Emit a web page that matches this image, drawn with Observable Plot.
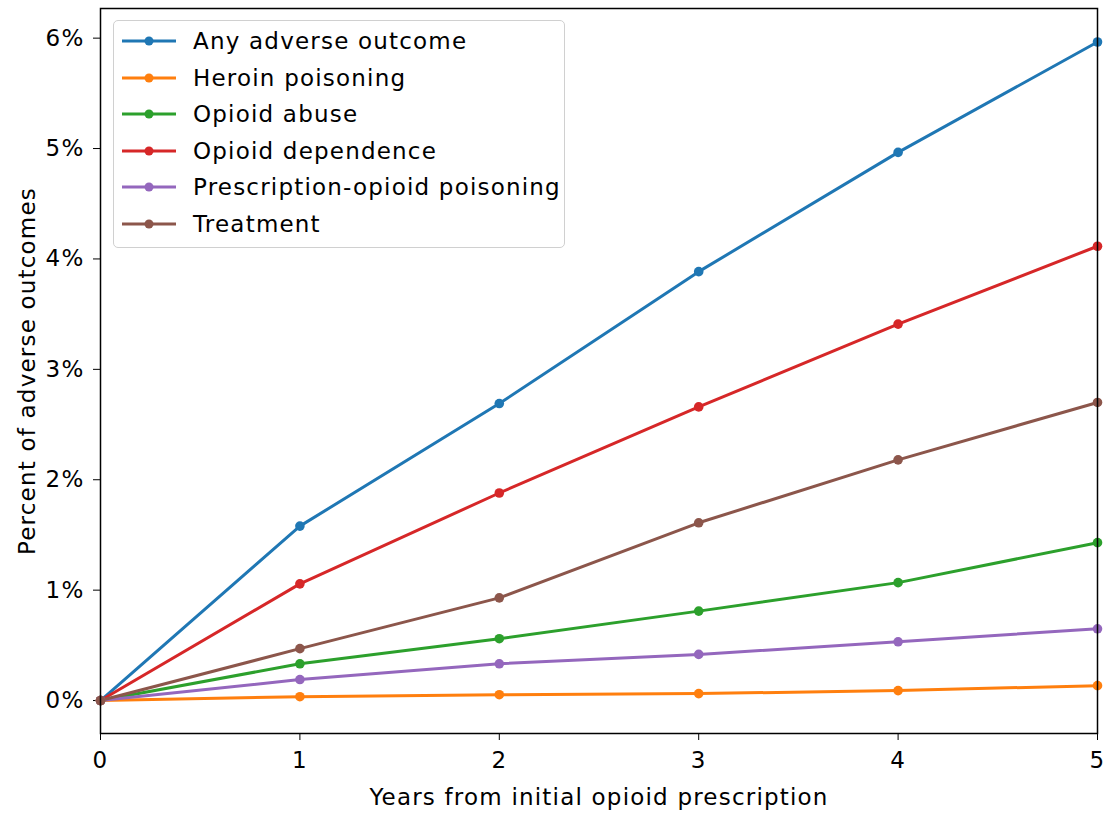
<!DOCTYPE html>
<html>
<head>
<meta charset="utf-8">
<script src="https://cdn.jsdelivr.net/npm/d3@7"></script>
<script src="https://cdn.jsdelivr.net/npm/@observablehq/plot@0.6"></script>
<style>
  html, body { margin: 0; padding: 0; background: #fff; }
  #wrap { position: relative; width: 1105px; height: 815px; font-family: "DejaVu Sans", sans-serif; color: #000; }
  #legend { position: absolute; left: 113px; top: 20px; width: 452px; height: 228px; border: 1.5px solid #d0d0d0; border-radius: 5px; background: rgba(255,255,255,0.8); box-sizing: border-box; }
  .row { position: absolute; left: 0; height: 36px; display: flex; align-items: center; font-size: 23px; letter-spacing: 1.2px; white-space: nowrap; }
  .row svg { margin-left: 8px; margin-right: 17px; }
</style>
</head>
<body>
<div id="wrap"><div id="chart"></div><div id="legend"></div></div>
<script>
const years = [0, 1, 2, 3, 4, 5];
const seriesNames = ["Any adverse outcome", "Heroin poisoning", "Opioid abuse", "Opioid dependence", "Prescription-opioid poisoning", "Treatment"];
const seriesColors = ["#1f77b4", "#ff7f0e", "#2ca02c", "#d62728", "#9467bd", "#8c564b"];
const anyAdverse = [0, 1.58, 2.69, 3.885, 4.965, 5.965];
const heroinPoisoning = [0, 0.035, 0.053, 0.063, 0.09, 0.135];
const opioidAbuse = [0, 0.333, 0.56, 0.81, 1.068, 1.43];
const opioidDependence = [0, 1.057, 1.88, 2.66, 3.41, 4.115];
const rxPoisoning = [0, 0.19, 0.333, 0.418, 0.532, 0.65];
const treatment = [0, 0.47, 0.93, 1.61, 2.18, 2.7];
const yTicks = [0, 1, 2, 3, 4, 5, 6];
const xTicks = [0, 1, 2, 3, 4, 5];

const allValues = [anyAdverse, heroinPoisoning, opioidAbuse, opioidDependence, rxPoisoning, treatment];
const data = [];
seriesNames.forEach((name, i) => {
  years.forEach((yr, j) => data.push({series: name, year: yr, value: allValues[i][j]}));
});

const chart = Plot.plot({
  width: 1105,
  height: 815,
  marginLeft: 100,
  marginRight: 8,
  marginTop: 8,
  marginBottom: 82,
  style: {fontFamily: "DejaVu Sans, sans-serif", fontSize: "23px", letterSpacing: "1.2px", color: "#000", background: "#fff"},
  x: {domain: [0, 5]},
  y: {domain: [-0.2985, 6.2685]},
  color: {domain: seriesNames, range: seriesColors},
  marks: [
    Plot.axisX({ticks: xTicks, tickSize: 7, tickPadding: 11, tickFormat: d => String(d), label: "Years from initial opioid prescription", labelAnchor: "center", labelOffset: 71, labelArrow: "none", fontSize: 23}),
    Plot.axisY({ticks: yTicks, tickSize: 7, tickPadding: 9, tickFormat: d => d + "%", label: "Percent of adverse outcomes", labelAnchor: "center", labelOffset: 82, labelArrow: "none", fontSize: 23}),
    Plot.line(data, {x: "year", y: "value", stroke: "series", z: "series", strokeWidth: 3}),
    Plot.dot(data, {x: "year", y: "value", fill: "series", r: 4.8}),
    Plot.frame({stroke: "#000", strokeWidth: 1.5})
  ]
});
document.getElementById("chart").appendChild(chart);

const legend = document.getElementById("legend");
seriesNames.forEach((name, i) => {
  const row = document.createElement("div");
  row.className = "row";
  row.style.top = (2 + i * 36.6) + "px";
  row.innerHTML = `<svg width="54" height="12"><line x1="0" y1="6" x2="54" y2="6" stroke="${seriesColors[i]}" stroke-width="3"/><circle cx="27" cy="6" r="4.5" fill="${seriesColors[i]}"/></svg><span>${name}</span>`;
  legend.appendChild(row);
});
</script>
</body>
</html>
